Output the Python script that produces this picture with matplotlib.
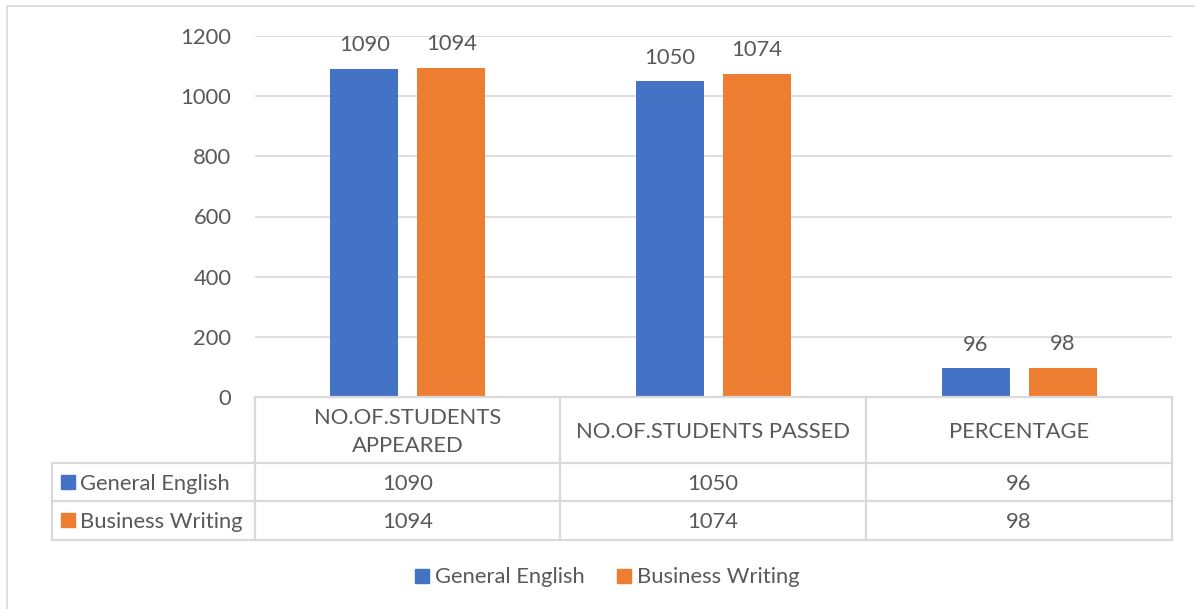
import matplotlib
matplotlib.use('Agg')
import matplotlib.pyplot as plt
from matplotlib.patches import Rectangle
from matplotlib.lines import Line2D
import numpy as np

categories = ['NO.OF.STUDENTS\nAPPEARED', 'NO.OF.STUDENTS PASSED', 'PERCENTAGE']
series_names = ['General English', 'Business Writing']
general_english = [1090, 1050, 96]
business_writing = [1094, 1074, 98]
series_values = [general_english, business_writing]
colors = ['#4472C4', '#ED7D31']
yticks = [0, 200, 400, 600, 800, 1000, 1200]

plt.rcParams['font.family'] = ['Lato', 'DejaVu Sans']
TXT = '#595959'
GRID = '#D9D9D9'
FS = 15.8

W, H = 1195, 609
fig = plt.figure(figsize=(W / 100, H / 100), dpi=100)


def fx(px):
    return px / W


def fy(py):
    return 1 - py / H


# outer chart border
fig.add_artist(Rectangle((fx(7), fy(640)), fx(1250), fy(6) - fy(640), transform=fig.transFigure,
                         fill=False, edgecolor=GRID, lw=1.2))

ax = fig.add_axes([fx(255), fy(397), fx(1172) - fx(255), fy(36) - fy(397)])
x = np.arange(len(categories))
off = 43.5 / 305.7
bw = 68 / 305.7
for i, (vals, c) in enumerate(zip(series_values, colors)):
    pos = x + (-off if i == 0 else off)
    ax.bar(pos, vals, width=bw, color=c, zorder=3)
    for p, v in zip(pos, vals):
        ax.annotate(str(v), (p, v), xytext=(0, 17), textcoords='offset points',
                    ha='center', va='center', fontsize=FS, color=TXT)

ax.set_xlim(-0.5, 2.5)
ax.set_ylim(0, 1200)
ax.set_yticks(yticks)
ax.set_xticks([])
ax.tick_params(axis='y', length=0, pad=17, labelsize=FS, labelcolor=TXT)
for s in ax.spines.values():
    s.set_visible(False)
for t in yticks[1:]:
    ax.axhline(t, color=GRID, lw=1.2, zorder=1)
ax.set_facecolor('none')

# data table
def hline(y, x0, x1):
    fig.add_artist(Line2D([fx(x0), fx(x1)], [fy(y), fy(y)], transform=fig.transFigure,
                          color=GRID, lw=1.6))


def vline(xp, y0, y1):
    fig.add_artist(Line2D([fx(xp), fx(xp)], [fy(y0), fy(y1)], transform=fig.transFigure,
                          color=GRID, lw=1.6))


hline(397, 255, 1172)
hline(463, 52, 1172)
hline(501, 52, 1172)
hline(540, 52, 1172)
vline(52, 463, 540)
for xb in [255, 560, 866, 1172]:
    vline(xb, 397, 540)

col_edges = [255, 560, 866, 1172]
for j, cat in enumerate(categories):
    cx = (col_edges[j] + col_edges[j + 1]) / 2
    fig.text(fx(cx), fy(432), cat, ha='center', va='center', fontsize=FS, color=TXT,
             linespacing=1.45)
    for r, (vals, yy) in enumerate(zip(series_values, [484, 522])):
        fig.text(fx(cx), fy(yy), str(vals[j]), ha='center', va='center', fontsize=FS, color=TXT)

for name, c, yy in zip(series_names, colors, [482, 520]):
    fig.add_artist(Rectangle((fx(61), fy(yy + 7)), fx(14), fy(yy - 7) - fy(yy + 7),
                             transform=fig.transFigure, color=c))
    fig.text(fx(80), fy(yy + 1.5), name, ha='left', va='center', fontsize=FS, color=TXT)

# legend
for name, c, lx in zip(series_names, colors, [415, 617]):
    fig.add_artist(Rectangle((fx(lx), fy(583)), fx(14), fy(569) - fy(583),
                             transform=fig.transFigure, color=c))
    fig.text(fx(lx + 20), fy(577), name, ha='left', va='center', fontsize=FS, color=TXT)

fig.savefig('out.png', dpi=100)
